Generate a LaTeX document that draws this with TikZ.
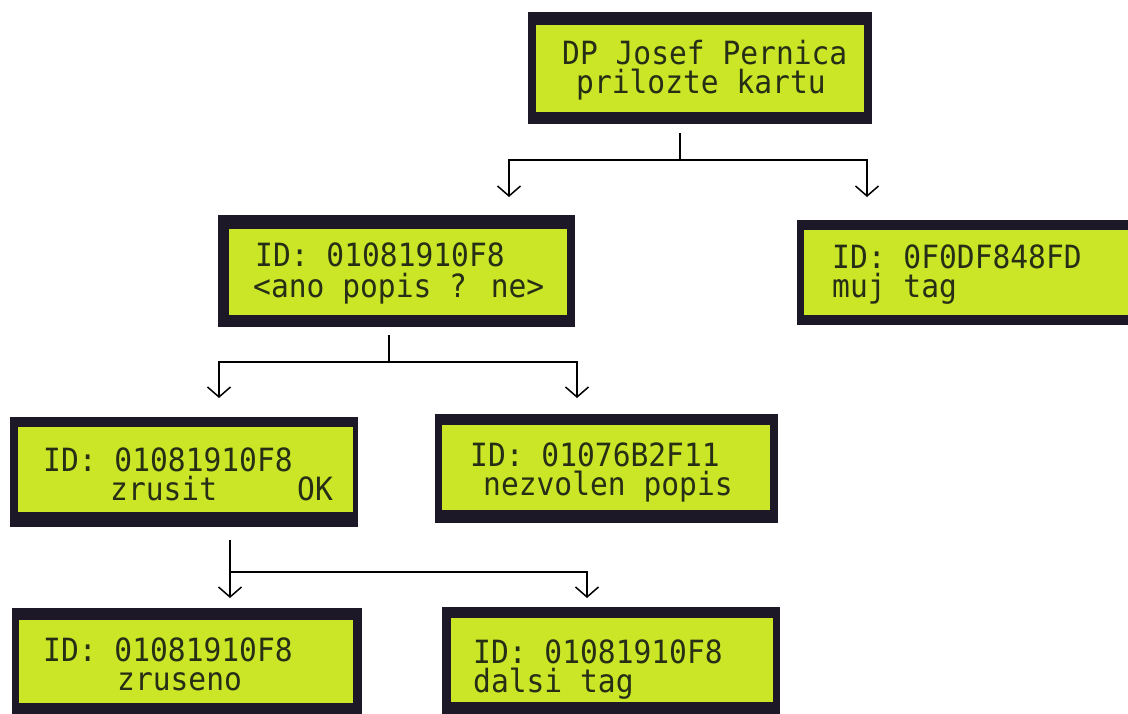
\documentclass[tikz,border=0pt]{standalone}
\usepackage{fontspec}
\newfontfamily\lcdfont{DejaVu Sans Mono}[FakeStretch=0.925]
\usetikzlibrary{arrows.meta}
\definecolor{lcdbg}{RGB}{202,230,38}
\definecolor{lcdframe}{RGB}{28,24,40}
\definecolor{lcdink}{RGB}{38,46,22}
\begin{document}
\begin{tikzpicture}[x=1pt,y=-1pt,
  frame/.style={fill=lcdframe, draw=none, inner sep=0pt, outer sep=0pt, anchor=north west},
  screen/.style={fill=lcdbg, draw=none, inner sep=0pt, outer sep=0pt, anchor=north west},
  lcdtext/.style={font=\lcdfont\fontsize{32}{32}\selectfont, text=lcdink, inner sep=0pt,
    text height=20pt, text depth=0pt, anchor=base west},
  conn/.style={draw=black, line width=1.5pt},
  arr/.style={conn, -{Straight Barb[length=10pt,width=23pt,line width=1.5pt]}}
]
\clip (0,0) rectangle (1128,713);
\fill[white] (0,0) rectangle (1128,713);

% LCD 1 (top)
\node[frame, minimum width=344pt, minimum height=112pt] (b1) at (528,12) {};
\node[screen, minimum width=328pt, minimum height=87pt] (s1) at (536,25) {};
\node[lcdtext] (t1a) at (562,64) {DP Josef Pernica};
\node[lcdtext] (t1b) at (576,93) {prilozte kartu};

% LCD 2
\node[frame, minimum width=357pt, minimum height=112pt] (b2) at (218,215) {};
\node[screen, minimum width=338pt, minimum height=86pt] (s2) at (229,229) {};
\node[lcdtext] (t2a) at (255,266) {ID: 01081910F8};
\node[lcdtext] (t2b) at (253,297) {<ano popis ? ne>};

% LCD 5 (right)
\node[frame, minimum width=340pt, minimum height=105pt] (b5) at (797,220) {};
\node[screen, minimum width=330pt, minimum height=85pt] (s5) at (804,230) {};
\node[lcdtext] (t5a) at (832,268) {ID: 0F0DF848FD};
\node[lcdtext] (t5b) at (832,297) {muj tag};

% LCD 3
\node[frame, minimum width=348pt, minimum height=110pt] (b3) at (10,417) {};
\node[screen, minimum width=335pt, minimum height=85pt] (s3) at (18,427) {};
\node[lcdtext] (t3a) at (43,471) {ID: 01081910F8};
\node[lcdtext] (t3b) at (110,500) {zrusit};
\node[lcdtext] (t3c) at (297,500) {OK};

% LCD 4
\node[frame, minimum width=343pt, minimum height=109pt] (b4) at (435,414) {};
\node[screen, minimum width=328pt, minimum height=85pt] (s4) at (442,425) {};
\node[lcdtext] (t4a) at (470,466) {ID: 01076B2F11};
\node[lcdtext] (t4b) at (483,495) {nezvolen popis};

% LCD 6
\node[frame, minimum width=350pt, minimum height=110pt] (b6) at (12,608) {};
\node[screen, minimum width=334pt, minimum height=83pt] (s6) at (19,620) {};
\node[lcdtext] (t6a) at (43,661) {ID: 01081910F8};
\node[lcdtext] (t6b) at (117,690) {zruseno};

% LCD 7
\node[frame, minimum width=338pt, minimum height=110pt] (b7) at (442,607) {};
\node[screen, minimum width=322pt, minimum height=84pt] (s7) at (451,618) {};
\node[lcdtext] (t7a) at (473,663) {ID: 01081910F8};
\node[lcdtext] (t7b) at (473,692) {dalsi tag};

% connector 1
\coordinate (j1) at (680,160);
\coordinate (e1a) at (509,197);
\coordinate (e1b) at (867,197);
\draw[conn] ([yshift=-9pt]b1.south -| j1) -- (j1);
\draw[arr] (j1) -| (e1a);
\draw[arr] (j1) -| (e1b);

% connector 2
\coordinate (j2) at (389,362);
\coordinate (e2a) at (219,398);
\coordinate (e2b) at (577,398);
\draw[conn] ([yshift=-8pt]b2.south -| j2) -- (j2);
\draw[arr] (j2) -| (e2a);
\draw[arr] (j2) -| (e2b);

% connector 3
\coordinate (j3) at (230,572);
\coordinate (e3a) at (230,598);
\coordinate (e3b) at (587,598);
\draw[arr] ([yshift=-13pt]b3.south -| j3) -- (e3a);
\draw[arr] (j3) -| (e3b);
\end{tikzpicture}
\end{document}
